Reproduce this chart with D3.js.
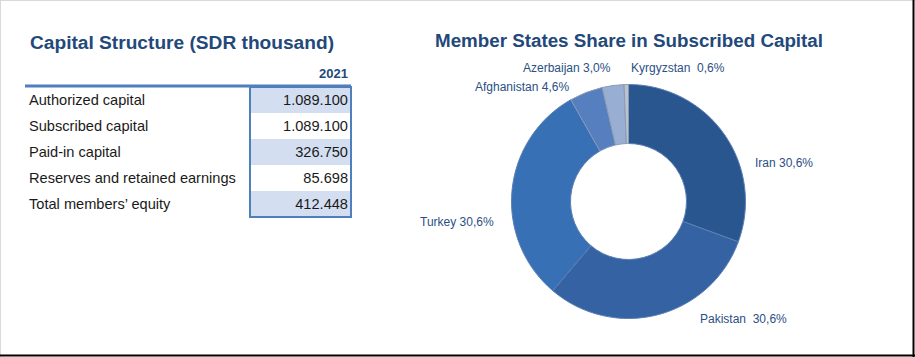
<!DOCTYPE html>
<html><head><meta charset="utf-8">
<script src="https://cdn.jsdelivr.net/npm/d3@7"></script>
<style>html,body{margin:0;padding:0;background:#fff;}svg{display:block;font-family:Arial,"Liberation Sans",sans-serif;}text{white-space:pre;}</style>
</head><body>
<script>
const tableTitle = "Capital Structure (SDR thousand)";
const tableYear = "2021";
const rowLabels = ["Authorized capital","Subscribed capital","Paid-in capital","Reserves and retained earnings","Total members\u2019 equity"];
const rowValues = ["1.089.100","1.089.100","326.750","85.698","412.448"];

const pieTitle = "Member States Share in Subscribed Capital";
const countries = ["Iran","Pakistan","Turkey","Afghanistan","Azerbaijan","Kyrgyzstan"];
const shares = [30.6,30.6,30.6,4.6,3.0,0.6];
const shareLabels = ["Iran 30,6%","Pakistan  30,6%","Turkey 30,6%","Afghanistan 4,6%","Azerbaijan 3,0%","Kyrgyzstan  0,6%"];

const W=915,H=357;
const svg=d3.select("body").append("svg").attr("width",W).attr("height",H);
// frame
svg.append("line").attr("x1",0.5).attr("y1",0).attr("x2",0.5).attr("y2",H).attr("stroke","#d9d9d9");
svg.append("line").attr("x1",0).attr("y1",0.5).attr("x2",W).attr("y2",0.5).attr("stroke","#d9d9d9");
svg.append("line").attr("x1",913.5).attr("y1",0).attr("x2",913.5).attr("y2",357).attr("stroke","#000").attr("stroke-width",2);
svg.append("line").attr("x1",0).attr("y1",355.5).attr("x2",915).attr("y2",355.5).attr("stroke","#000").attr("stroke-width",2);

const dark="#23487a";
// ---- table
svg.append("text").attr("x",30).attr("y",49).attr("font-size",18).attr("font-weight","bold").attr("fill",dark)
  .attr("textLength",304).attr("lengthAdjust","spacingAndGlyphs").text(tableTitle);
svg.append("text").attr("x",348).attr("y",78).attr("text-anchor","end").attr("font-size",13).attr("font-weight","bold").attr("fill",dark).text(tableYear);

const y=d3.scaleBand().domain(d3.range(rowLabels.length)).range([87,217]);
const g=svg.append("g");
g.selectAll("rect.band").data(rowValues).join("rect").attr("class","band")
  .attr("x",250).attr("y",(d,i)=>y(i)).attr("width",101).attr("height",y.bandwidth())
  .attr("fill",(d,i)=>i%2===0?"#d3dff0":"#fff");
g.selectAll("text.lab").data(rowLabels).join("text").attr("class","lab")
  .attr("x",29).attr("y",(d,i)=>y(i)+y.bandwidth()/2+5).attr("font-size",14.6).attr("fill","#1a1a1a").text(d=>d);
g.selectAll("text.val").data(rowValues).join("text").attr("class","val")
  .attr("x",348).attr("y",(d,i)=>y(i)+y.bandwidth()/2+5).attr("text-anchor","end").attr("font-size",14.6).attr("fill","#1a1a1a").text(d=>d);
g.append("rect").attr("x",250).attr("y",87).attr("width",101).attr("height",130).attr("fill","none").attr("stroke","#4f7fbd").attr("stroke-width",2);
g.append("line").attr("x1",25).attr("x2",351).attr("y1",86).attr("y2",86).attr("stroke","#4f7fbd").attr("stroke-width",3);

// ---- donut
svg.append("text").attr("x",435).attr("y",47).attr("font-size",18).attr("font-weight","bold").attr("fill",dark)
  .attr("textLength",388).attr("lengthAdjust","spacingAndGlyphs").text(pieTitle);

const cx=628.5,cy=201.5,R=117,r0=58;
const base=["#2f60a0","#3a6db4","#3e7dca","#5f8dd4","#a9c2ea","#d0d8e4"];
const defs=svg.append("defs");
base.forEach((c,i)=>{
  const gr=defs.append("radialGradient").attr("id","g"+i).attr("gradientUnits","userSpaceOnUse")
    .attr("cx",cx).attr("cy",cy).attr("r",R);
  const cc=d3.color(c);
  gr.append("stop").attr("offset","49%").attr("stop-color",cc.brighter(0.4));
  gr.append("stop").attr("offset","55%").attr("stop-color",c);
  gr.append("stop").attr("offset","93%").attr("stop-color",c);
  gr.append("stop").attr("offset","100%").attr("stop-color",cc.darker(0.3));
});
const pie=d3.pie().sort(null).value(d=>d)(shares);
const arc=d3.arc().innerRadius(r0).outerRadius(R);
const pg=svg.append("g").attr("transform",`translate(${cx},${cy})`);
pg.selectAll("path").data(pie).join("path").attr("d",arc)
  .attr("fill",(d,i)=>`url(#g${i})`).attr("stroke",(d,i)=>i>=3?"#8a9bb5":"#5d7fb3").attr("stroke-width",1);

const labelPos=[[755,167,"start"],[700,323,"start"],[420,226,"start"],[475,91,"start"],[523,72,"start"],[631,72,"start"]];
svg.selectAll("text.pl").data(shareLabels).join("text").attr("class","pl")
  .attr("x",(d,i)=>labelPos[i][0]).attr("y",(d,i)=>labelPos[i][1]).attr("text-anchor",(d,i)=>labelPos[i][2])
  .attr("font-size",12).attr("fill","#2b4f84").text(d=>d);
</script>
</body></html>
